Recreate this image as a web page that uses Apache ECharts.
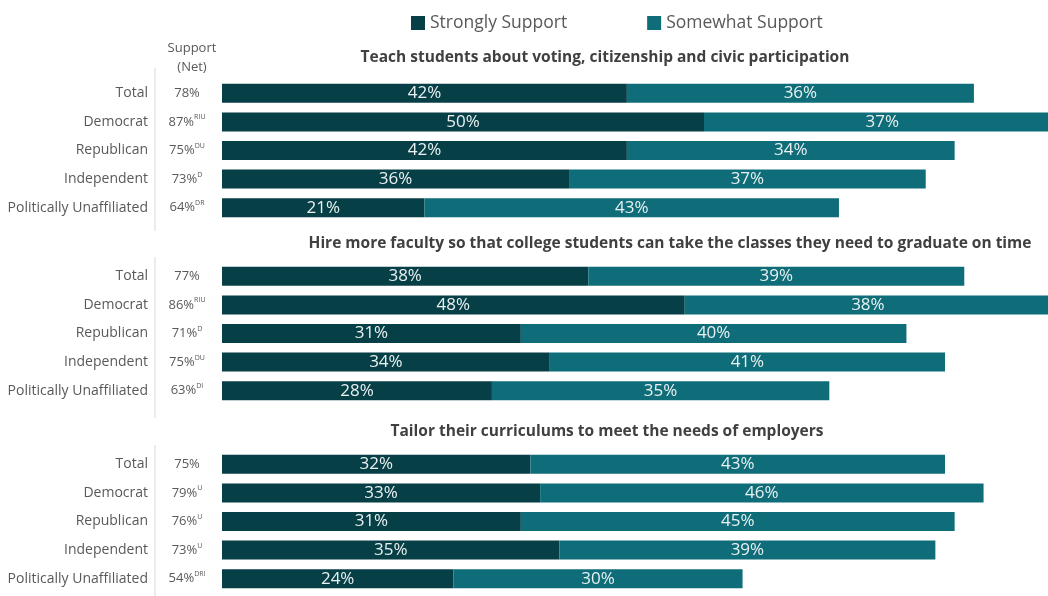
<!DOCTYPE html>
<html>
<head>
<meta charset="utf-8">
<script src="https://cdn.jsdelivr.net/npm/echarts@6/dist/echarts.min.js"></script>
<style>
  html, body { margin: 0; padding: 0; background: #ffffff; }
  #chart { width: 1048px; height: 596px; }
</style>
</head>
<body>
<div id="chart"></div>
<script>
// Survey groups shown in every panel
const groups = ['Total', 'Democrat', 'Republican', 'Independent', 'Politically Unaffiliated'];

// One panel per proposal
const questions = [
  'Teach students about voting, citizenship and civic participation',
  'Hire more faculty so that college students can take the classes they need to graduate on time',
  'Tailor their curriculums to meet the needs of employers'
];

// Percent "Strongly Support" per panel, in group order
const stronglySupport = [
  [42, 50, 42, 36, 21],
  [38, 48, 31, 34, 28],
  [32, 33, 31, 35, 24]
];

// Percent "Somewhat Support" per panel, in group order
const somewhatSupport = [
  [36, 37, 34, 37, 43],
  [39, 38, 40, 41, 35],
  [43, 46, 45, 39, 30]
];

// Net support column
const netSupport = [
  [78, 87, 75, 73, 64],
  [77, 86, 71, 75, 63],
  [75, 79, 76, 73, 54]
];

// Significance letters next to the net value
const sigLetters = [
  ['', 'RIU', 'DU', 'D', 'DR'],
  ['', 'RIU', 'D', 'DU', 'DI'],
  ['', 'U', 'U', 'U', 'DRI']
];

const seriesNames = ['Strongly Support', 'Somewhat Support'];

const FONT = '"Open Sans", Lato, sans-serif';
const GRAY = '#595959';
const DARK = '#073f47';
const TEAL = '#0f6d79';

// Panel layout: plot top in px, title centre x / top y, separator extent
const panels = [
  { top: 79,  titleX: 600, titleY: 45,  sepTop: 68,  sepBottom: 231 },
  { top: 262, titleX: 665, titleY: 231, sepTop: 257, sepBottom: 418 },
  { top: 450, titleX: 602, titleY: 419, sepTop: 445, sepBottom: 596 }
];
const PANEL_H = 143;

const grids = [], xAxes = [], yAxes = [], series = [], titles = [], graphics = [];

panels.forEach((p, i) => {
  // 100% spans 964px; the longest bars run past the right edge
  grids.push({ left: 222, top: p.top, width: 964, height: PANEL_H, containLabel: false, outerBoundsMode: 'none' });
  xAxes.push({ type: 'value', gridIndex: i, min: 0, max: 100, show: false });

  // group names
  yAxes.push({
    type: 'category', gridIndex: i, position: 'left', data: groups, inverse: true,
    axisLine: { show: false }, axisTick: { show: false }, splitLine: { show: false },
    axisLabel: { margin: 74, align: 'right', color: GRAY, fontFamily: FONT, fontSize: 14 }
  });
  // net support with significance letters
  const yNames = yAxes.length - 1;
  yAxes.push({
    type: 'category', gridIndex: i, position: 'left', offset: 0, data: groups, inverse: true,
    axisLine: { show: false }, axisTick: { show: false }, splitLine: { show: false },
    axisLabel: {
      margin: 35, align: 'center', color: GRAY, fontFamily: FONT, fontSize: 13,
      formatter: (val, idx) => '{v|' + netSupport[i][idx] + '%}' + (sigLetters[i][idx] ? '{s|' + sigLetters[i][idx] + '}' : ''),
      rich: {
        v: { fontSize: 13, color: GRAY, fontFamily: FONT, lineHeight: 16 },
        s: { fontSize: 7, color: GRAY, fontFamily: FONT, verticalAlign: 'top', lineHeight: 16, padding: [0, 0, 6, 0] }
      }
    }
  });

  const common = {
    type: 'bar', stack: 'panel' + i, xAxisIndex: i, yAxisIndex: yNames,
    barWidth: 19,
    label: {
      show: true, position: 'inside', formatter: '{c}%',
      color: '#e9f1f1', fontFamily: FONT, fontSize: 17
    }
  };
  series.push(Object.assign({}, common, {
    name: seriesNames[0], data: stronglySupport[i], itemStyle: { color: DARK }
  }));
  series.push(Object.assign({}, common, {
    name: seriesNames[1], data: somewhatSupport[i], itemStyle: { color: TEAL }
  }));

  titles.push({
    text: questions[i], left: p.titleX, top: p.titleY, textAlign: 'center',
    textStyle: { color: '#404040', fontFamily: FONT, fontSize: 15.5, fontWeight: 'bold' }
  });

  graphics.push({
    type: 'line', shape: { x1: 155, y1: p.sepTop, x2: 155, y2: p.sepBottom },
    style: { stroke: '#d9d9d9', lineWidth: 1 }
  });
});

titles.push({
  text: 'Support\n(Net)', left: 187, top: 34, textAlign: 'center',
  textStyle: { color: GRAY, fontFamily: FONT, fontSize: 13, fontWeight: 'normal', lineHeight: 19 }
});

const chart = echarts.init(document.getElementById('chart'), null, { renderer: 'canvas' });
chart.setOption({
  animation: false,
  backgroundColor: '#ffffff',
  title: titles,
  legend: {
    data: seriesNames, left: 406, top: 9, itemGap: 80,
    itemWidth: 14, itemHeight: 14, icon: 'rect',
    textStyle: { color: GRAY, fontFamily: FONT, fontSize: 17.5 }
  },
  grid: grids,
  xAxis: xAxes,
  yAxis: yAxes,
  series: series,
  graphic: graphics
});
</script>
</body>
</html>
